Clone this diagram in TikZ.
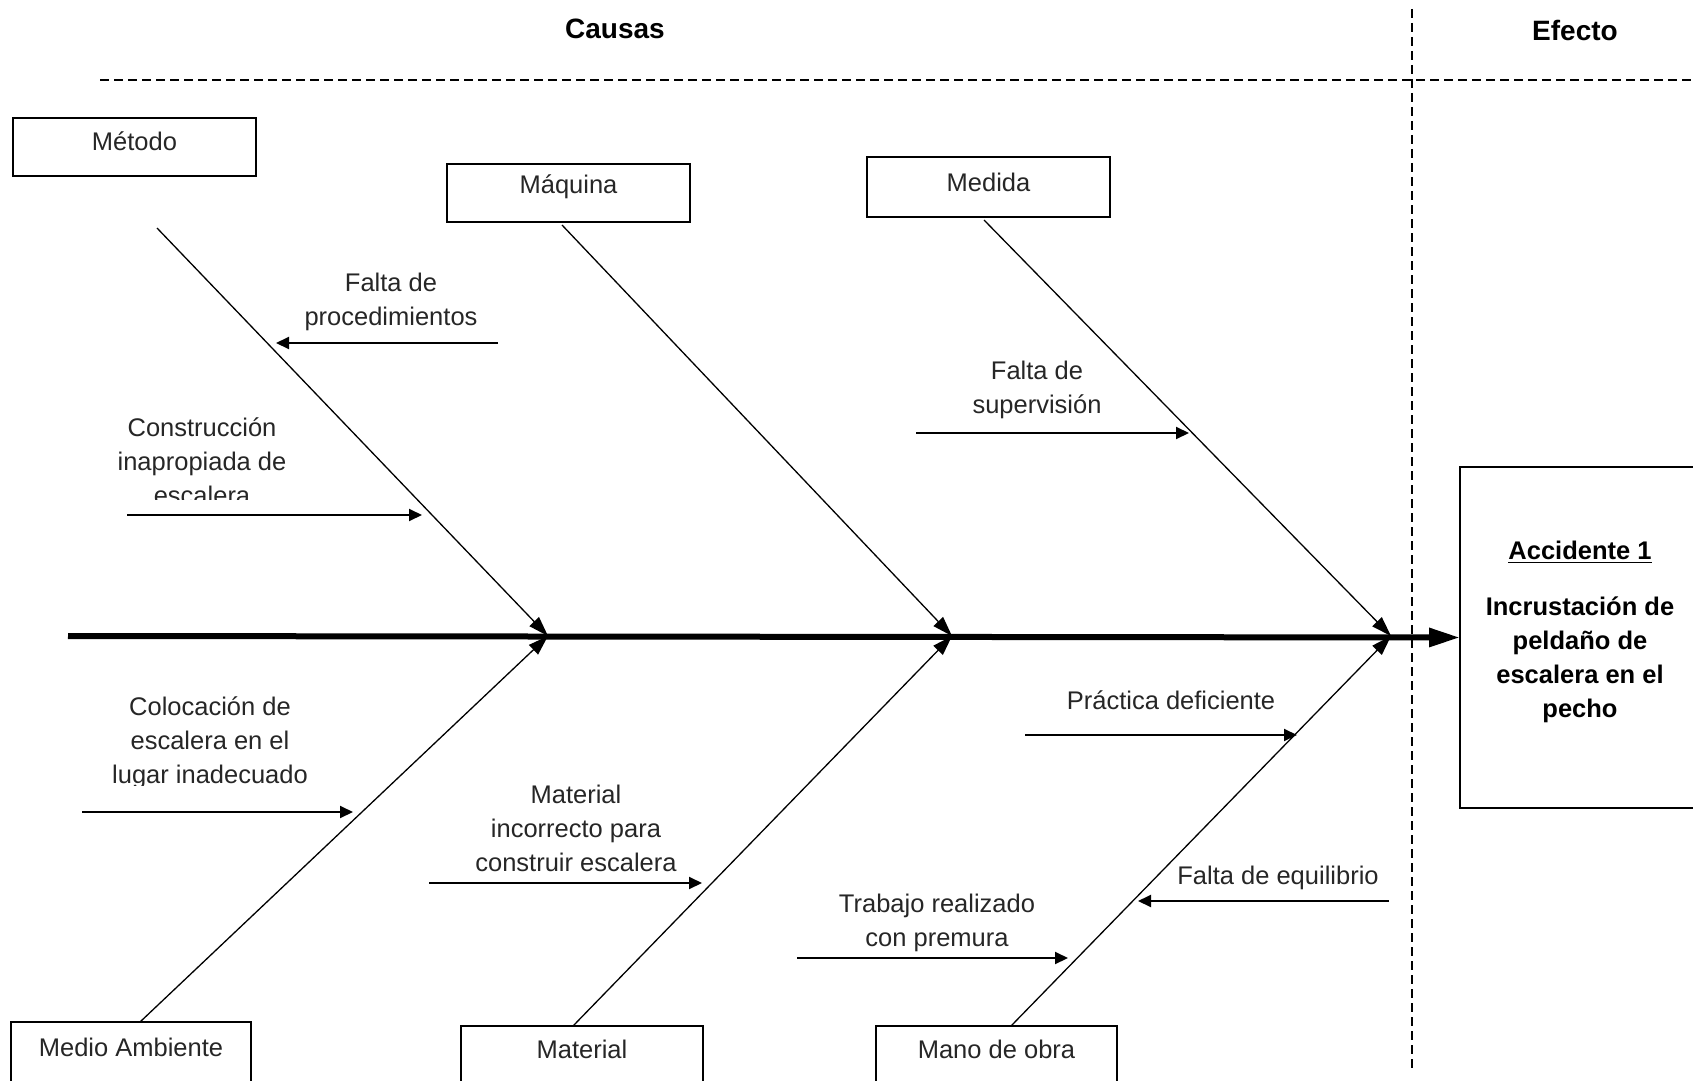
\documentclass[tikz,border=0pt]{standalone}
\usepackage{fontspec}
\setmainfont{Liberation Sans}
\usetikzlibrary{arrows.meta}

\begin{document}
\begin{tikzpicture}[x=0.5pt,y=-0.5pt,
  every node/.style={inner sep=0pt, outer sep=0pt},
  lbl/.style={font=\fontsize{12.75pt}{17pt}\selectfont, align=center, text=black!85},
  head/.style={font=\fontsize{14pt}{17pt}\selectfont\bfseries},
  catbox/.style={draw, line width=0.8pt, minimum width=121.5pt, minimum height=29pt},
  bone/.style={line width=0.65pt, -{Triangle[length=10pt,width=6.5pt]}},
  sub/.style={line width=1pt, -{Triangle[length=6.5pt,width=6pt]}},
  spine/.style={line width=3pt, -{Triangle[length=15.5pt,width=9pt]}},
  sep/.style={line width=0.6pt, dash pattern=on 4.5pt off 2.5pt},
]
\useasboundingbox (0,0) rectangle (1693,1081);
\clip (0,0) rectangle (1693,1081);

% column headings and separators
\node[head] (causas) at (615,29) {Causas};
\node[head] (efectoh) at (1575,30) {Efecto};
\coordinate (hsepL) at (100,80);
\coordinate (hsepR) at (1693,80);
\coordinate (vsepT) at (1412,9);
\coordinate (vsepB) at (1412,1070);
\draw[sep] (hsepL) -- (hsepR);
\draw[sep] (vsepT) -- (vsepB);

% effect box
\node[draw, line width=0.8pt, minimum width=120pt, minimum height=170.5pt] (efecto) at (1580,637.5) {};
\node[lbl, font=\fontsize{12.75pt}{17pt}\selectfont\bfseries, text=black] (efectot) at (1580,632)
  {\underline{Accidente 1}\\[11pt] Incrustación de\\ peldaño de\\ escalera en el\\ pecho};

% spine
\coordinate (spineL) at (68,636);
\draw[spine] (spineL) -- (efecto.west);
\coordinate (j1) at (548,636);
\coordinate (j2) at (952,636);
\coordinate (j3) at (1391,636);

% category boxes, top row
\node[catbox] (metodo) at (134.5,147) {};
\node[lbl] (metodot) at ([yshift=-11.5pt]metodo.north) {Método};
\node[catbox] (maquina) at (568.5,193) {};
\node[lbl] (maquinat) at ([yshift=-11.5pt]maquina.north) {Máquina};
\node[catbox, minimum height=30pt] (medida) at (988.5,187) {};
\node[lbl] (medidat) at ([yshift=-12.5pt]medida.north) {Medida};

% category boxes, bottom row
\node[catbox, minimum width=120pt, minimum height=40pt] (medio) at (131,1062) {};
\node[lbl] (mediot) at ([yshift=-12.5pt]medio.north) {Medio Ambiente};
\node[catbox, minimum width=121pt, minimum height=40pt] (material) at (582,1066) {};
\node[lbl] (materialt) at ([yshift=-11.5pt]material.north) {Material};
\node[catbox, minimum width=120.5pt, minimum height=40pt] (mano) at (996.5,1066) {};
\node[lbl] (manot) at ([yshift=-11.5pt]mano.north) {Mano de obra};

% main bones
\coordinate (bMetodo) at (157,228);
\coordinate (bMaquina) at (562,225);
\coordinate (bMedida) at (984,220);
\coordinate (bMedio) at (140,1022);
\coordinate (bMaterial) at (573,1026);
\coordinate (bMano) at (1011,1026);
\draw[bone] (bMetodo) -- (j1);
\draw[bone] (bMedio) -- (j1);
\draw[bone] (bMaquina) -- (j2);
\draw[bone] (bMaterial) -- (j2);
\draw[bone] (bMedida) -- (j3);
\draw[bone] (bMano) -- (j3);

% sub-causes
\node[lbl] (proc) at (391,302) {Falta de\\ procedimientos};
\coordinate (procA) at (498,343); \coordinate (procB) at (276,343);
\draw[sub] (procA) -- (procB);

\begin{scope}
  \clip (0,380) rectangle (440,499);
  \node[lbl] (constr) at (202,461) {Construcción\\ inapropiada de\\ escalera};
\end{scope}
\coordinate (constrA) at (127,515); \coordinate (constrB) at (422,515);
\draw[sub] (constrA) -- (constrB);

\node[lbl] (superv) at (1037,390) {Falta de\\ supervisión};
\coordinate (supervA) at (916,433); \coordinate (supervB) at (1189,433);
\draw[sub] (supervA) -- (supervB);

\begin{scope}
  \clip (0,680) rectangle (440,785);
  \node[lbl] (coloc) at (210,743) {Colocación de\\ escalera en el\\ lugar inadecuado};
\end{scope}
\coordinate (colocA) at (82,812); \coordinate (colocB) at (353,812);
\draw[sub] (colocA) -- (colocB);

\node[lbl] (matinc) at (576,828) {Material\\ incorrecto para\\ construir escalera};
\coordinate (matincA) at (429,883); \coordinate (matincB) at (702,883);
\draw[sub] (matincA) -- (matincB);

\node[lbl] (practica) at (1171,700) {Práctica deficiente};
\coordinate (practicaA) at (1025,735); \coordinate (practicaB) at (1297,735);
\draw[sub] (practicaA) -- (practicaB);

\node[lbl] (equil) at (1278,878) {Falta de equilibrio};
\coordinate (equilA) at (1389,901); \coordinate (equilB) at (1138,901);
\draw[sub] (equilA) -- (equilB);

\node[lbl] (trabajo) at (937,923) {Trabajo realizado\\ con premura};
\coordinate (trabajoA) at (797,958); \coordinate (trabajoB) at (1068,958);
\draw[sub] (trabajoA) -- (trabajoB);
\end{tikzpicture}
\end{document}
